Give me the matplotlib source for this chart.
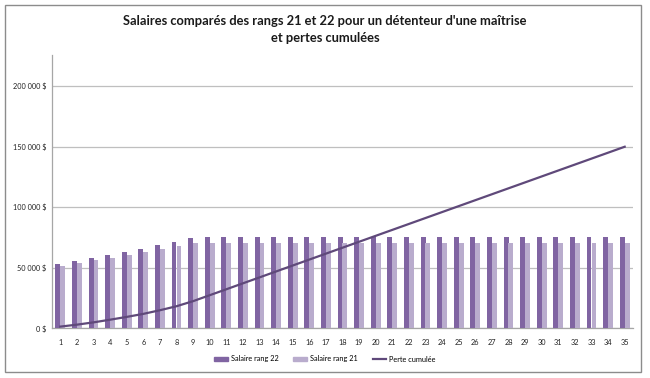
import matplotlib
matplotlib.use("Agg")
import matplotlib.pyplot as plt
from matplotlib.patches import Rectangle
from matplotlib.lines import Line2D
import numpy as np

plt.rcParams['font.family'] = ['Lato', 'DejaVu Sans']

annees = list(range(1, 36))
salaire_rang_22 = [53000, 55500, 58000, 60500, 63000, 65500, 68500, 71200, 74500] + [75300] * 26
salaire_rang_21 = [51600, 53900, 56100, 58300, 60700, 63000, 65400, 67900, 70300] + [70300] * 26
perte_cumulee = [1400, 3000, 4900, 7100, 9400, 11900, 14900, 18200, 22400, 27300,
                 32200, 37100, 42000, 46900, 51800, 56700, 61600, 66500, 71400, 76300,
                 81200, 86100, 91000, 95900, 100800, 105700, 110600, 115500, 120400, 125300,
                 130200, 135100, 140000, 144900, 149800]
yticks = [0, 50000, 100000, 150000, 200000]
ytick_labels = ["0 $", "50 000 $", "100 000 $", "150 000 $", "200 000 $"]
titre = "Salaires comparés des rangs 21 et 22 pour un détenteur d'une maîtrise\net pertes cumulées"
noms = ["Salaire rang 22", "Salaire rang 21", "Perte cumulée"]

c22 = "#8064A2"
c21 = "#B9ACCD"
cline = "#5F497A"

fig = plt.figure(figsize=(6.5, 3.78), dpi=100)
W, H = 650, 378
ax = fig.add_axes([52 / W, 1 - 328.3 / H, (633 - 52) / W, (328.3 - 55) / H])

x = np.array(annees)
bw = 0.3
ax.bar(x - bw / 2, salaire_rang_22, width=bw, color=c22, zorder=3)
ax.bar(x + bw / 2, salaire_rang_21, width=bw, color=c21, zorder=3)
ax.plot(x, perte_cumulee, color=cline, lw=1.6, zorder=4)

ax.set_xlim(0.5, 35.5)
ax.set_ylim(0, 225500)
ax.set_yticks(yticks)
ax.set_yticklabels(ytick_labels)
ax.set_xticks(x)
ax.set_xticklabels([str(a) for a in annees])
ax.tick_params(axis='both', length=0, labelsize=5.3, colors='#222222')
ax.tick_params(axis='x', pad=7.5)
ax.tick_params(axis='y', pad=4)
ax.grid(axis='y', color='#BFBFBF', lw=0.9, zorder=0)
for s in ['top', 'right']:
    ax.spines[s].set_visible(False)
for s in ['left', 'bottom']:
    ax.spines[s].set_color('#A6A6A6')
    ax.spines[s].set_linewidth(0.9)

fig.text(0.5, 1 - 29.5 / H, titre, ha='center', va='center', fontsize=9.3,
         fontweight='bold', color='#1a1a1a', linespacing=1.5)

handles = [Rectangle((0, 0), 1, 1, color=c22), Rectangle((0, 0), 1, 1, color=c21),
           Line2D([0], [0], color=cline, lw=1.6)]
fig.legend(handles, noms, loc='center', bbox_to_anchor=(325 / W, 1 - 359 / H),
           ncol=3, frameon=False, fontsize=5.3, handlelength=1.9, handleheight=0.6,
           columnspacing=2.0, handletextpad=0.35)

fig.patches.append(Rectangle((5 / W, 1 - 372 / H), (641 - 5) / W, (372 - 5) / H,
                             transform=fig.transFigure, fill=False,
                             edgecolor='#8C8C8C', lw=1.0))

fig.savefig("out.png", dpi=100)
